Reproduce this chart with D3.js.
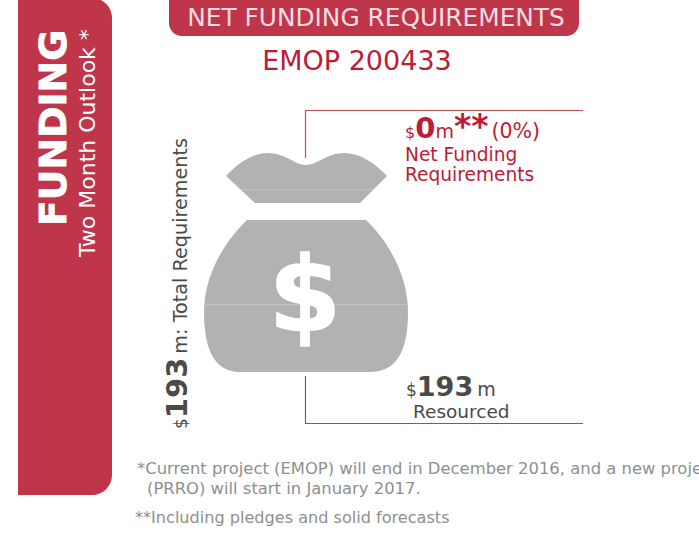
<!DOCTYPE html>
<html>
<head>
<meta charset="utf-8">
<script src="https://cdn.jsdelivr.net/npm/d3@7"></script>
<style>
html, body { margin: 0; padding: 0; background: #fff; overflow: hidden; }
text { font-family: "DejaVu Sans", Verdana, sans-serif; }
</style>
</head>
<body>
<div id="grafo"></div>
<script>
'use strict';

var titulo = ["NET FUNDING REQUIREMENTS", "EMOP 200433"];
var lateral = ["FUNDING", "Two Month Outlook *"];
var netoValor = ["$", "0", "m", "**", "(0%)"];
var netoTexto = ["Net Funding", "Requirements"];
var recursosValor = ["$", "193", "m"];
var recursosTexto = ["Resourced"];
var totalValor = ["$", "193", "m: Total Requirements"];
var notas = [
	"*Current project (EMOP) will end in December 2016, and a new project",
	"(PRRO) will start in January 2017.",
	"**Including pledges and solid forecasts"
];

var width = 699,
	height = 536,
	rojo = "#bf354a",
	rojoTexto = "#bc1c35",
	gris = "#b2b2b2",
	grisTexto = "#4a4a4a";

var svg = d3.select("#grafo").append("svg")
	.attr("width", width)
	.attr("height", height)
	.style("display", "block");

function cajaDerecha(x0, x1, y0, y1, r){
	var p = d3.path();
	p.moveTo(x0, y0);
	p.lineTo(x1 - r, y0);
	p.arcTo(x1, y0, x1, y0 + r, r);
	p.lineTo(x1, y1 - r);
	p.arcTo(x1, y1, x1 - r, y1, r);
	p.lineTo(x0, y1);
	p.closePath();
	return p.toString();
}

// side band and header pill
svg.append("path").attr("d", cajaDerecha(18, 112, -2, 495, 20)).attr("fill", rojo);
svg.append("rect")
	.attr("x", 169).attr("y", -14).attr("width", 410).attr("height", 50)
	.attr("rx", 13).attr("fill", rojo);

svg.append("text").attr("x", 376).attr("y", 26)
	.attr("text-anchor", "middle").attr("font-size", 24.8).attr("fill", "#f6dde1")
	.text(titulo[0]);
svg.append("text").attr("x", 357).attr("y", 70)
	.attr("text-anchor", "middle").attr("font-size", 27).attr("fill", rojoTexto)
	.text(titulo[1]);

svg.append("text").attr("transform", "translate(66,226) rotate(-90)")
	.attr("font-size", 37.8).attr("font-weight", "bold").attr("fill", "#fff")
	.attr("stroke", "#fff").attr("stroke-width", 0.8).text(lateral[0]);
svg.append("text").attr("transform", "translate(95,257) rotate(-90)")
	.attr("font-size", 22).attr("fill", "#fff").text(lateral[1]);

// money bag
var bolsaTop = d3.path();
bolsaTop.moveTo(226, 176);
bolsaTop.bezierCurveTo(238, 163, 252, 153, 268, 153);
bolsaTop.bezierCurveTo(285, 153, 295, 165, 306, 165);
bolsaTop.bezierCurveTo(317, 165, 327, 153, 344, 153);
bolsaTop.bezierCurveTo(360, 153, 375, 163, 387, 176);
bolsaTop.lineTo(360, 203);
bolsaTop.lineTo(255, 203);
bolsaTop.closePath();

var bolsa = d3.path();
bolsa.moveTo(247, 220);
bolsa.lineTo(366, 220);
bolsa.bezierCurveTo(385, 238, 408, 272, 408, 312);
bolsa.bezierCurveTo(408, 345, 400, 372, 370, 372);
bolsa.lineTo(240, 372);
bolsa.bezierCurveTo(212, 372, 204, 345, 204, 312);
bolsa.bezierCurveTo(204, 272, 228, 238, 247, 220);
bolsa.closePath();

svg.append("path").attr("d", bolsaTop.toString()).attr("fill", gris);
svg.append("path").attr("d", bolsa.toString()).attr("fill", gris);
svg.append("line").attr("x1", 241).attr("x2", 372).attr("y1", 189.5).attr("y2", 189.5)
	.attr("stroke", "#c0c0c0").attr("stroke-width", 1);
svg.append("line").attr("x1", 204).attr("x2", 408).attr("y1", 304.5).attr("y2", 304.5)
	.attr("stroke", "#c4c4c4").attr("stroke-width", 1);
svg.append("text").attr("x", 305).attr("y", 331)
	.attr("text-anchor", "middle").attr("font-size", 104).attr("font-weight", "bold")
	.attr("font-family", "Liberation Sans").attr("fill", "#fff")
	.attr("stroke", "#fff").attr("stroke-width", 1.5).text("$");

// leader lines
svg.append("path").attr("d", "M305.5,158V110.5H583")
	.attr("fill", "none").attr("stroke", "#c4505f").attr("stroke-width", 1.2);
svg.append("path").attr("d", "M305.5,376V423.5H583")
	.attr("fill", "none").attr("stroke", "#666666").attr("stroke-width", 1.2);

// net funding label
var neto = svg.append("text").attr("x", 405).attr("y", 138).attr("fill", rojoTexto);
var netoSize = [16, 29, 19, 33, 20.5];
var netoBold = ["normal", "bold", "normal", "bold", "normal"];
neto.selectAll("tspan").data(netoValor).enter().append("tspan")
	.attr("font-size", function(d, i){ return netoSize[i]; })
	.attr("font-weight", function(d, i){ return netoBold[i]; })
	.attr("dx", function(d, i){ return i === 4 ? 3 : 0; })
	.text(function(d){ return d; });
svg.selectAll(".neto").data(netoTexto).enter().append("text")
	.attr("class", "neto")
	.attr("x", 405)
	.attr("y", function(d, i){ return 161 + i * 20; })
	.attr("font-size", 18.6).attr("fill", rojoTexto)
	.text(function(d){ return d; });

// resourced label
var rec = svg.append("text").attr("x", 406).attr("y", 396).attr("fill", grisTexto);
var recSize = [17, 27, 19];
var recBold = ["normal", "bold", "normal"];
rec.selectAll("tspan").data(recursosValor).enter().append("tspan")
	.attr("font-size", function(d, i){ return recSize[i]; })
	.attr("font-weight", function(d, i){ return recBold[i]; })
	.attr("dx", function(d, i){ return i === 2 ? 4 : 0; })
	.text(function(d){ return d; });
svg.append("text").attr("x", 413).attr("y", 418)
	.attr("font-size", 18.5).attr("fill", grisTexto).text(recursosTexto[0]);

// total label, rotated
var total = svg.append("text").attr("transform", "translate(187,429) rotate(-90)").attr("fill", grisTexto);
var totalSize = [17, 29, 19.2];
var totalBold = ["normal", "bold", "normal"];
total.selectAll("tspan").data(totalValor).enter().append("tspan")
	.attr("font-size", function(d, i){ return totalSize[i]; })
	.attr("font-weight", function(d, i){ return totalBold[i]; })
	.attr("dx", function(d, i){ return i === 2 ? 4 : 0; })
	.text(function(d){ return d; });

// footnotes
var notaX = [137, 147, 135];
var notaY = [474, 494, 523];
var notaSize = [16.4, 16.4, 16.1];
svg.selectAll(".nota").data(notas).enter().append("text")
	.attr("class", "nota")
	.attr("x", function(d, i){ return notaX[i]; })
	.attr("y", function(d, i){ return notaY[i]; })
	.attr("font-size", function(d, i){ return notaSize[i]; })
	.attr("fill", "#8f8f8f")
	.text(function(d){ return d; });
</script>
</body>
</html>
